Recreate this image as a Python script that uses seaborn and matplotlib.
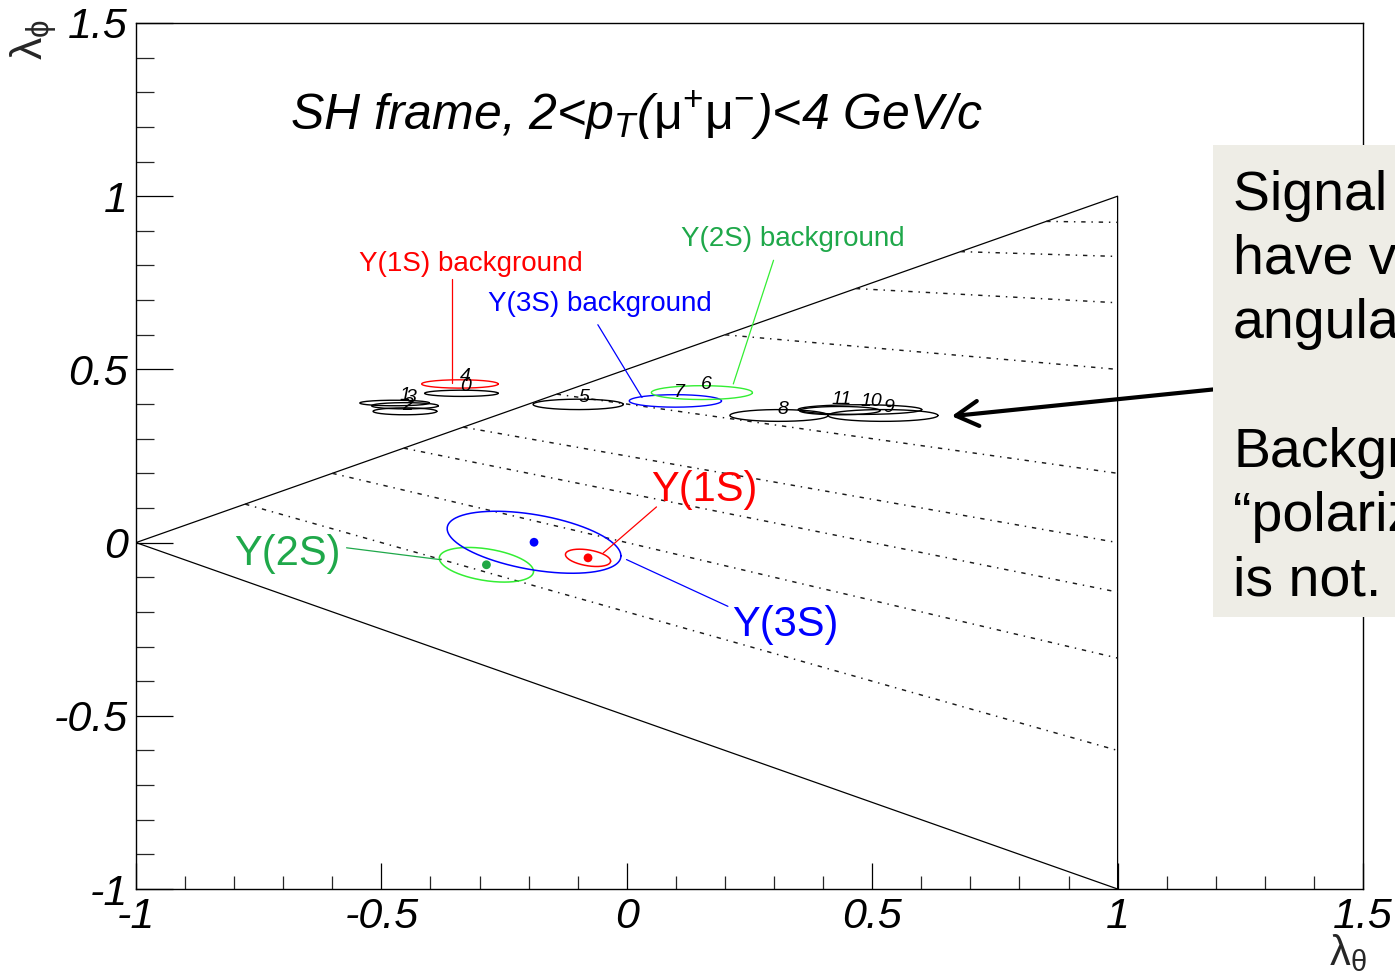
import numpy as np
import pandas as pd
import matplotlib
matplotlib.use("Agg")
import matplotlib.pyplot as plt
import seaborn as sns
from matplotlib.patches import Rectangle

# ---- data -------------------------------------------------------------
# background (sideband) fits per pT bin: centre and 1-sigma half widths
bkg_ids = ["0", "1", "2", "3", "5", "8", "9", "10", "11"]
bkg_x = [-0.337, -0.473, -0.452, -0.452, -0.099, 0.310, 0.522, 0.475, 0.434]
bkg_y = [0.431, 0.403, 0.395, 0.379, 0.399, 0.367, 0.367, 0.384, 0.381]
bkg_sx = [0.075, 0.071, 0.068, 0.065, 0.092, 0.100, 0.112, 0.126, 0.082]
bkg_sy = [0.009, 0.008, 0.009, 0.010, 0.015, 0.017, 0.017, 0.014, 0.012]
bkg_tx = [-0.328, -0.452, -0.446, -0.440, -0.087, 0.318, 0.534, 0.499, 0.437]
bkg_ty = [0.451, 0.424, 0.396, 0.418, 0.418, 0.384, 0.389, 0.408, 0.413]

# background fits under the three Upsilon peaks
ups_bkg_ids = ["4", "7", "6"]
ups_bkg_names = ["Y(1S) background", "Y(3S) background", "Y(2S) background"]
ups_bkg_x = [-0.340, 0.099, 0.153]
ups_bkg_y = [0.458, 0.409, 0.433]
ups_bkg_sx = [0.078, 0.094, 0.103]
ups_bkg_sy = [0.012, 0.018, 0.020]
ups_bkg_tx = [-0.330, 0.108, 0.162]
ups_bkg_ty = [0.480, 0.432, 0.456]

# signal fits
sig_names = ["Y(1S)", "Y(2S)", "Y(3S)"]
sig_x = [-0.079, -0.286, -0.189]
sig_y = [-0.044, -0.064, 0.001]
sig_sx = [0.046, 0.096, 0.177]
sig_sy = [0.025, 0.050, 0.0895]
sig_rho = [-0.38, -0.38, -0.44]

# lines of constant frame-invariant lambda-tilde
lam_tilde = [-0.5, 0.0, 0.5, 1.0, 2.0, 5.0, 10.0, 20.0, 50.0]

x_ticks = [-1, -0.5, 0, 0.5, 1, 1.5]
x_tick_labels = ["-1", "-0.5", "0", "0.5", "1", "1.5"]
y_ticks = [-1, -0.5, 0, 0.5, 1, 1.5]
y_tick_labels = ["-1", "-0.5", "0", "0.5", "1", "1.5"]

note_lines = ["Signal peaks", "have very", "angular", "",
              "Background", "\u201cpolarization\u201d", "is not."]

# ---- style ------------------------------------------------------------
sns.set_theme(style="white")
plt.rcParams["font.family"] = ["Liberation Sans", "DejaVu Sans"]
plt.rcParams["mathtext.fontset"] = "custom"
plt.rcParams["mathtext.rm"] = "Liberation Sans"
plt.rcParams["mathtext.it"] = "Liberation Sans:italic"
plt.rcParams["mathtext.bf"] = "Liberation Sans:bold"

RED = "#ff0000"
BLUE = "#0000ff"
GREEN_LINE = "#33ee33"
GREEN_TEXT = "#1fa84a"

fig = plt.figure(figsize=(13.95, 9.8), dpi=100)
ax = fig.add_axes([136 / 1395, 1 - 889 / 980, (1363 - 136) / 1395, (889 - 23) / 980])
ax.set_xlim(-1, 1.5)
ax.set_ylim(-1, 1.5)

t = np.linspace(0, 2 * np.pi, 241)


def ellipse(cx, cy, sx, sy, rho=0.0):
    ex = cx + sx * np.cos(t)
    ey = cy + sy * (rho * np.cos(t) + np.sqrt(1 - rho ** 2) * np.sin(t))
    return pd.DataFrame({"x": ex, "y": ey})


def draw_ellipse(df, color, lw=1.0):
    sns.lineplot(data=df, x="x", y="y", sort=False, estimator=None,
                 color=color, lw=lw, ax=ax, legend=False)


# allowed region
ax.plot([-1, 1, 1, -1], [0, 1, -1, 0], color="black", lw=0.9)

# lambda-tilde contours, from the upper edge to lambda_theta = 1
for lt in lam_tilde:
    x0 = (lt - 3) / (lt + 5)
    y0 = (x0 + 1) / 2
    y1 = (lt - 1) / (lt + 3)
    ax.plot([x0, 1], [y0, y1], color="#1a1a1a", lw=1.05,
            linestyle=(0, (3, 4, 1, 4)))

# background ellipses
num_fs = 14
for i in range(len(bkg_ids)):
    draw_ellipse(ellipse(bkg_x[i], bkg_y[i], bkg_sx[i], bkg_sy[i]), "black", 1.0)
    ax.text(bkg_tx[i], bkg_ty[i], bkg_ids[i], fontsize=num_fs, style="italic",
            ha="center", va="center", color="black")

ups_bkg_cols = [RED, BLUE, GREEN_LINE]
for i in range(len(ups_bkg_ids)):
    draw_ellipse(ellipse(ups_bkg_x[i], ups_bkg_y[i], ups_bkg_sx[i], ups_bkg_sy[i]),
                 ups_bkg_cols[i], 1.0)
    ax.text(ups_bkg_tx[i], ups_bkg_ty[i], ups_bkg_ids[i], fontsize=num_fs,
            style="italic", ha="center", va="center", color="black")

# signal ellipses and centres
sig_cols = [RED, GREEN_LINE, BLUE]
sig_dot_cols = [RED, "#22a845", BLUE]
for i in range(len(sig_names)):
    draw_ellipse(ellipse(sig_x[i], sig_y[i], sig_sx[i], sig_sy[i], sig_rho[i]),
                 sig_cols[i], 1.1)
sns.scatterplot(x=sig_x, y=sig_y, hue=sig_names, palette=sig_dot_cols,
                s=40, edgecolor="none", legend=False, ax=ax, zorder=5)

# labels with leader lines
lab_fs = 20
ax.text(-0.317, 0.805, ups_bkg_names[0], color=RED, fontsize=lab_fs,
        ha="center", va="center")
ax.plot([-0.357, -0.357], [0.760, 0.462], color=RED, lw=0.9)
ax.text(-0.055, 0.688, ups_bkg_names[1], color=BLUE, fontsize=lab_fs,
        ha="center", va="center")
ax.plot([-0.059, 0.031], [0.629, 0.419], color=BLUE, lw=0.9)
ax.text(0.339, 0.875, ups_bkg_names[2], color=GREEN_TEXT, fontsize=lab_fs,
        ha="center", va="center")
ax.plot([0.299, 0.217], [0.815, 0.458], color=GREEN_LINE, lw=0.9)

big_fs = 30
ax.text(0.157, 0.153, sig_names[0], color=RED, fontsize=big_fs,
        ha="center", va="center")
ax.plot([0.0605, -0.048], [0.103, -0.030], color=RED, lw=0.9)
ax.text(0.324, -0.237, sig_names[2], color=BLUE, fontsize=big_fs,
        ha="center", va="center")
ax.plot([-0.0006, 0.206], [-0.049, -0.184], color=BLUE, lw=0.9)
ax.text(-0.691, -0.032, sig_names[1], color=GREEN_TEXT, fontsize=big_fs,
        ha="center", va="center")
ax.plot([-0.571, -0.381], [-0.015, -0.049], color=GREEN_TEXT, lw=0.9)

# title inside the frame
ax.text(-0.687, 1.19,
        r"SH frame, 2<$p_{T}$($\mathrm{\mu}^{+}\mathrm{\mu}^{-}$)<4 GeV/c",
        fontsize=36, style="italic", ha="left", va="baseline", color="black")

# arrow pointing at the background points
ax.annotate("", xy=(0.662, 0.365), xytext=(1.194, 0.442),
            arrowprops=dict(arrowstyle="->,head_length=0.8,head_width=0.45",
                            lw=3, color="black", mutation_scale=20,
                            shrinkA=0, shrinkB=0))

# axes, ticks
tick_fs = 31
ax.set_xticks(x_ticks, x_tick_labels)
ax.set_yticks(y_ticks, y_tick_labels)
ax.set_xticks(np.arange(-1, 1.51, 0.1), minor=True)
ax.set_yticks(np.arange(-1, 1.51, 0.1), minor=True)
ax.tick_params(axis="x", which="major", direction="in", length=19, width=0.9,
               pad=6, labelsize=tick_fs, bottom=True, top=False, colors="black")
ax.tick_params(axis="x", which="minor", direction="in", length=9.5, width=0.9,
               bottom=True, top=False)
ax.tick_params(axis="y", which="major", direction="in", length=26.5, width=0.9,
               pad=6, labelsize=tick_fs, left=True, right=False, colors="black")
ax.tick_params(axis="y", which="minor", direction="in", length=13, width=0.9,
               left=True, right=False)
for lab in ax.get_xticklabels() + ax.get_yticklabels():
    lab.set_fontstyle("italic")
for sp in ax.spines.values():
    sp.set_color("black")
    sp.set_linewidth(1.0)
ax.set_xlabel("")
ax.set_ylabel("")

fig.text(1348 / 1395, 1 - 953 / 980, r"$\mathrm{\lambda}_{\mathrm{\theta}}$",
         fontsize=30, ha="center", va="center")
fig.text(34 / 1395, 1 - 40 / 980, r"$\mathrm{\lambda}_{\mathrm{\phi}}$",
         fontsize=32, ha="center", va="center", rotation=90)

# side note panel
fig.add_artist(Rectangle((1213 / 1395, 1 - 617 / 980), 200 / 1395, 472 / 980,
                         transform=fig.transFigure, facecolor="#eeede6",
                         edgecolor="none", zorder=10))
for k, line in enumerate(note_lines):
    if line:
        fig.text(1233 / 1395, 1 - (210 + 64.2 * k) / 980, line,
                 fontsize=40, ha="left", va="baseline", zorder=11,
                 color="black")

fig.savefig("out.png", dpi=100)
